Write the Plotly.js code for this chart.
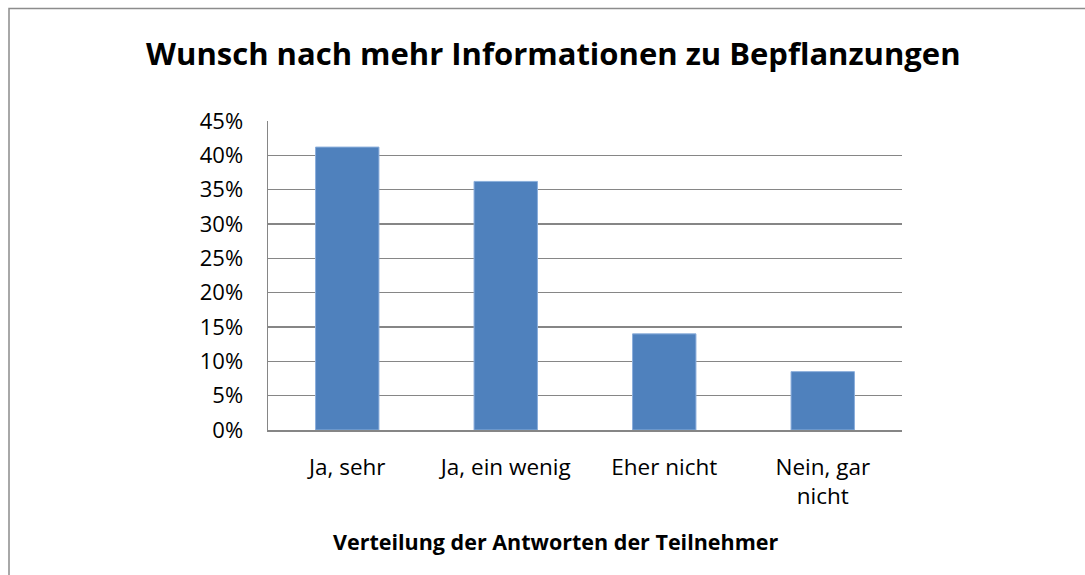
<!DOCTYPE html>
<html>
<head>
<meta charset="utf-8">
<script src="https://cdn.plot.ly/plotly-3.0.1.min.js"></script>
<style>html,body{margin:0;padding:0;background:#fff;overflow:hidden}#chart{width:1085px;height:575px}</style>
</head>
<body>
<div id="chart"></div>
<script>
const categories = ["Ja, sehr", "Ja, ein wenig", "Eher nicht", "Nein, gar<br>nicht"];
const values = [0.412, 0.362, 0.140, 0.085];
const yTickVals = [0, 0.05, 0.10, 0.15, 0.20, 0.25, 0.30, 0.35, 0.40, 0.45];

const font = "'Open Sans', Lato, 'Liberation Sans', sans-serif";
const trace = {
  type: "bar",
  x: categories,
  y: values,
  width: 0.4,
  marker: {color: "#4F81BD", line: {color: "#8BAEDB", width: 1}},
  hoverinfo: "none"
};
const layout = {
  width: 1085, height: 575,
  margin: {l: 268, r: 183, t: 121, b: 145},
  paper_bgcolor: "#fff", plot_bgcolor: "#fff",
  showlegend: false,
  font: {family: font, color: "#000"},
  title: {text: "<b>Wunsch nach mehr Informationen zu Bepflanzungen</b>", font: {size: 31, family: font, color: "#000"}, xref: "container", x: 0.51, xanchor: "center", yref: "container", y: 0.905, yanchor: "middle"},
  xaxis: {
    showline: true, linecolor: "#868686", linewidth: 1.5,
    ticks: "", tickfont: {size: 22.5, family: font, color: "#000"},
    ticklabelstandoff: 16, showgrid: false, fixedrange: true
  },
  yaxis: {
    range: [0, 0.45], tickvals: yTickVals, tickformat: ".0%",
    showline: true, linecolor: "#868686", linewidth: 1.5,
    showgrid: true, gridcolor: "#868686", gridwidth: 1.3,
    zeroline: false, ticks: "", tickfont: {size: 22, family: font, color: "#000"},
    ticklabelstandoff: 19, fixedrange: true
  },
  annotations: [{
    text: "<b>Verteilung der Antworten der Teilnehmer</b>",
    xref: "paper", yref: "paper", x: 0.454, y: -0.362,
    xanchor: "center", yanchor: "middle", showarrow: false,
    font: {size: 21.5, family: font, color: "#000"}
  }],
  shapes: [{
    type: "rect", xref: "paper", yref: "paper",
    x0: (9 - 268) / 634, x1: 1.5, y0: -0.6, y1: (430 - 8.5) / 309,
    line: {color: "#8c8c8c", width: 1.5}, fillcolor: "rgba(0,0,0,0)", layer: "above"
  }]
};
Plotly.newPlot("chart", [trace], layout, {displayModeBar: false, staticPlot: true});
</script>
</body>
</html>
